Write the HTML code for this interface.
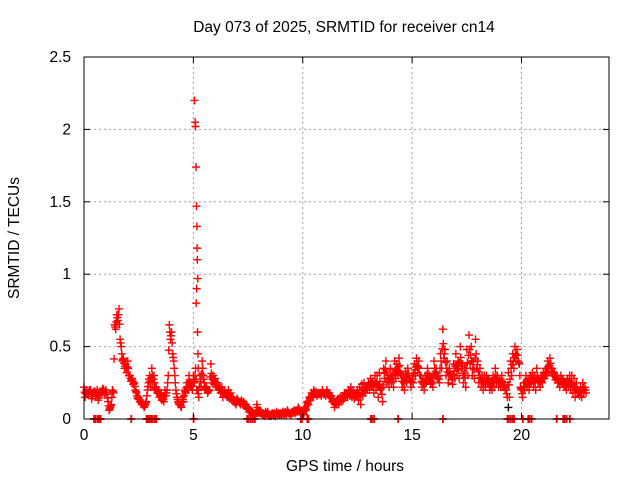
<!DOCTYPE html>
<html><head><meta charset="utf-8"><style>
body{margin:0;background:#fff;}
svg text{font-family:"Liberation Sans",sans-serif;font-size:15.5px;fill:#000;}
</style></head><body>
<svg id="chart" width="640" height="480" xmlns="http://www.w3.org/2000/svg">
<text x="344" y="32" text-anchor="middle">Day 073 of 2025, SRMTID for receiver cn14</text>
<text x="345" y="471" text-anchor="middle">GPS time / hours</text>
<text transform="translate(19,238) rotate(-90)" text-anchor="middle">SRMTID / TECUs</text>
<g id="grid"></g><g id="marks"></g><g id="axes"></g>
</svg>
<script>
const xTicks=[0,5,10,15,20];
const yTicks=[0,0.5,1,1.5,2,2.5];
const yTickLabels=["0","0.5","1","1.5","2","2.5"];
const seriesA=[0.22,0.2,0.18,0.2,0.17,0.19,0.2,0.16,0.18,0.2,
0.2,0.12,0.08,0.2,0.65,0.72,0.76,0.5,0.42,0.38,
0.4,0.3,0.28,0.25,0.18,0.15,0.12,0.11,0.1,0.2,
0.3,0.35,0.3,0.22,0.2,0.18,0.15,0.2,0.2,0.65,
0.6,0.4,0.2,0.12,0.1,0.15,0.2,0.25,0.3,0.25,
0.3,0.35,0.2,0.3,0.4,0.25,0.22,0.2,0.38,0.3,
0.28,0.25,0.22,0.22,0.2,0.18,0.2,0.18,0.15,0.12,
0.14,0.12,0.13,0.12,0.1,0.08,0.06,0.05,0.04,0.1,
0.06,0.05,0.04,0.05,0.05,0.03,0.04,0.04,0.05,0.04,
0.04,0.05,0.05,0.06,0.04,0.05,0.06,0.06,0.08,0.05,
0.05,0.08,0.12,0.15,0.18,0.2,0.19,0.18,0.18,0.2,
0.18,0.2,0.18,0.16,0.14,0.12,0.14,0.15,0.16,0.18,
0.18,0.2,0.22,0.2,0.18,0.2,0.22,0.24,0.25,0.22,
0.25,0.28,0.26,0.3,0.3,0.32,0.22,0.35,0.4,0.3,
0.35,0.3,0.4,0.38,0.42,0.3,0.3,0.33,0.35,0.28,
0.3,0.38,0.42,0.4,0.3,0.28,0.3,0.35,0.3,0.28,
0.4,0.35,0.3,0.45,0.62,0.48,0.4,0.35,0.3,0.38,
0.45,0.4,0.5,0.38,0.35,0.48,0.58,0.5,0.4,0.55,
0.4,0.35,0.3,0.3,0.3,0.28,0.25,0.3,0.35,0.3,
0.28,0.3,0.25,0.2,0.32,0.4,0.45,0.5,0.48,0.38,
0.2,0.25,0.3,0.28,0.3,0.32,0.3,0.35,0.28,0.3,
0.32,0.35,0.4,0.42,0.35,0.32,0.3,0.28,0.3,0.27,
0.25,0.28,0.3,0.3,0.28,0.25,0.2,0.22,0.25,0.22];
const seriesB=[0.15,0.17,0.2,0.14,0.19,0.16,0.13,0.19,0.21,0.17,
0.17,0.06,0.1,0.18,0.62,0.68,0.55,0.4,0.35,0.32,
0.3,0.26,0.24,0.2,0.14,0.12,0.1,0.08,0.12,0.25,
0.22,0.25,0.2,0.18,0.15,0.13,0.12,0.16,0.3,0.55,
0.45,0.3,0.15,0.1,0.08,0.12,0.18,0.2,0.22,0.2,
0.25,0.2,0.15,0.22,0.3,0.2,0.18,0.2,0.25,0.24,
0.22,0.2,0.18,0.15,0.17,0.15,0.14,0.13,0.12,0.1,
0.12,0.1,0.1,0.09,0.07,0.05,0.04,0.03,0.02,0.06,
0.04,0.03,0.02,0.03,0.02,0.02,0.03,0.02,0.03,0.03,
0.03,0.03,0.03,0.04,0.03,0.04,0.04,0.05,0.06,0.03,
0.03,0.06,0.1,0.13,0.15,0.17,0.16,0.17,0.16,0.17,
0.16,0.17,0.15,0.12,0.08,0.1,0.1,0.12,0.13,0.15,
0.15,0.16,0.15,0.14,0.16,0.13,0.1,0.16,0.18,0.2,
0.2,0.22,0.18,0.2,0.15,0.2,0.12,0.28,0.25,0.22,
0.25,0.22,0.28,0.3,0.32,0.22,0.2,0.25,0.28,0.22,
0.25,0.3,0.32,0.3,0.22,0.2,0.25,0.28,0.24,0.22,
0.3,0.28,0.25,0.35,0.42,0.3,0.25,0.3,0.24,0.28,
0.3,0.28,0.35,0.25,0.22,0.3,0.38,0.3,0.28,0.35,
0.25,0.22,0.2,0.22,0.25,0.2,0.2,0.22,0.25,0.22,
0.22,0.22,0.2,0.15,0.15,0.3,0.35,0.4,0.4,0.22,
0.15,0.2,0.22,0.2,0.25,0.22,0.2,0.25,0.22,0.25,
0.28,0.3,0.32,0.35,0.3,0.27,0.25,0.22,0.25,0.22,
0.2,0.22,0.2,0.18,0.15,0.18,0.16,0.15,0.18,0.18];
const spikeTimes=[5.05,5.08,5.1,5.12,5.14,5.16,5.17,5.18,5.2,5.15,5.13,5.19,5.21,5.22];
const spikeValues=[2.2,2.05,2.02,1.74,1.47,1.33,1.18,1.1,0.97,0.9,0.8,0.6,0.45,0.35];
const zeroTimes=[0.45,0.5,0.6,0.65,0.7,0.75,2.15,2.85,2.9,2.95,3.0,3.05,3.1,3.2,3.25,3.3,5.0,7.45,7.5,7.6,7.7,7.8,9.9,9.95,10.2,10.25,13.1,13.15,13.25,14.35,16.4,19.35,19.4,19.5,19.6,19.65,20.05,20.3,20.35,20.45,21.6,21.9,21.95,22.05,22.2];
const blackTimes=[19.4];
const blackValues=[0.08];

const NS="http://www.w3.org/2000/svg";
const X0=84,X1=609,Y0=419,Y1=57,XMAX=24,YMAX=2.5;
const xs=v=>X0+(X1-X0)*v/XMAX;
const ys=v=>Y0-(Y0-Y1)*v/YMAX;
function mk(tag,attrs,parent){const e=document.createElementNS(NS,tag);for(const k in attrs)e.setAttribute(k,attrs[k]);parent.appendChild(e);return e;}
const grid=document.getElementById('grid'),axes=document.getElementById('axes'),marks=document.getElementById('marks');
xTicks.forEach(t=>{const x=xs(t);
 if(t>0){const g=mk('line',{x1:x,y1:Y0,x2:x,y2:Y1,stroke:'#a0a0a0','stroke-dasharray':'2,3'},grid);
 
 }
 mk('line',{x1:x,y1:Y0,x2:x,y2:Y0-6,stroke:'#000'},axes);
 mk('line',{x1:x,y1:Y1,x2:x,y2:Y1+6,stroke:'#000'},axes);
 const l=mk('text',{x:x,y:Y0+21,'text-anchor':'middle'},axes);l.textContent=t;
 
 
});
yTicks.forEach((t,i)=>{const y=ys(t);
 if(t>0&&t<YMAX){const g=mk('line',{x1:X0,y1:y,x2:X1,y2:y,stroke:'#a0a0a0','stroke-dasharray':'2,3'},grid);
 
 }
 mk('line',{x1:X0,y1:y,x2:X0+6,y2:y,stroke:'#000'},axes);
 mk('line',{x1:X1,y1:y,x2:X1-6,y2:y,stroke:'#000'},axes);
 const l=mk('text',{x:X0-13,y:y+5,'text-anchor':'end'},axes);l.textContent=yTickLabels[i];
 
 
});
const frame=mk('rect',{x:X0,y:Y1,width:X1-X0,height:Y0-Y1,fill:'none',stroke:'#000'},axes);


function plus(t,v,color,name){const x=xs(t),y=ys(v);
 const p=mk('path',{d:`M${x-4},${y}h8M${x},${y-4}v8`,stroke:color,'stroke-width':1.4,fill:'none'},marks);
 
 }
seriesA.forEach((v,i)=>plus(i*0.1,v,'#f00','srmtid-point'));
seriesB.forEach((v,i)=>plus(i*0.1+0.05,v,'#f00','srmtid-point'));
seriesA.forEach((v,i)=>{plus(i*0.1+0.025,(v+seriesB[i])/2,'#f00','srmtid-point');});
seriesA.forEach((v,i)=>{if(i+1<seriesA.length)plus(i*0.1+0.075,(seriesB[i]+seriesA[i+1])/2,'#f00','srmtid-point');});
spikeTimes.forEach((t,i)=>plus(t,spikeValues[i],'#f00','spike-point'));
zeroTimes.forEach(t=>{plus(t,0,'#f00','zero-point');plus(t+0.02,0,'#f00','zero-point');});
blackTimes.forEach((t,i)=>plus(t,blackValues[i],'#000','black-point'));
</script>
</body></html>
